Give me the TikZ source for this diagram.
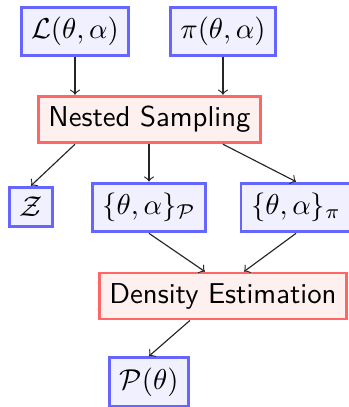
\documentclass[tikz,border=0pt]{standalone}
\begin{document}
\begin{tikzpicture}[x=0.348pt,y=-0.348pt,
  bbox/.style={draw=blue!60,fill=blue!6,line width=1pt,inner sep=3.5pt},
  rbox/.style={draw=red!60,fill=red!6,line width=1pt,inner sep=3.5pt,font=\sffamily},
  arr/.style={->,thin,black!85}]
\useasboundingbox (0,0) rectangle (349,407);
\node[bbox] (L) at (75,31.5) {$\mathcal{L}(\theta,\alpha)$};
\node[bbox] (pr) at (223,31.5) {$\pi(\theta,\alpha)$};
\node[rbox] (NS) at (149.5,119.5) {Nested Sampling};
\node[bbox] (Z) at (31,207) {$\mathcal{Z}$};
\node[bbox] (sP) at (149,207.5) {$\{\theta,\alpha\}_{\mathcal{P}}$};
\node[bbox] (spi) at (296,207.5) {$\{\theta,\alpha\}_{\pi}$};
\node[rbox] (DE) at (223,296) {Density Estimation};
\node[bbox] (Pt) at (149,382) {$\mathcal{P}(\theta)$};
\draw[arr] (L.south) -- (L.south |- NS.north);
\draw[arr] (pr.south) -- (pr.south |- NS.north);
\draw[arr] (NS.south -| L.south) -- (Z.north);
\draw[arr] (NS.south -| sP.north) -- (sP.north);
\draw[arr] (NS.south -| pr.south) -- (spi.north);
\draw[arr] (sP.south) -- ([xshift=-6.3pt]DE.north);
\draw[arr] (spi.south) -- ([xshift=7.3pt]DE.north);
\draw[arr] ([xshift=-11.5pt]DE.south) -- (Pt.north);
\end{tikzpicture}
\end{document}
